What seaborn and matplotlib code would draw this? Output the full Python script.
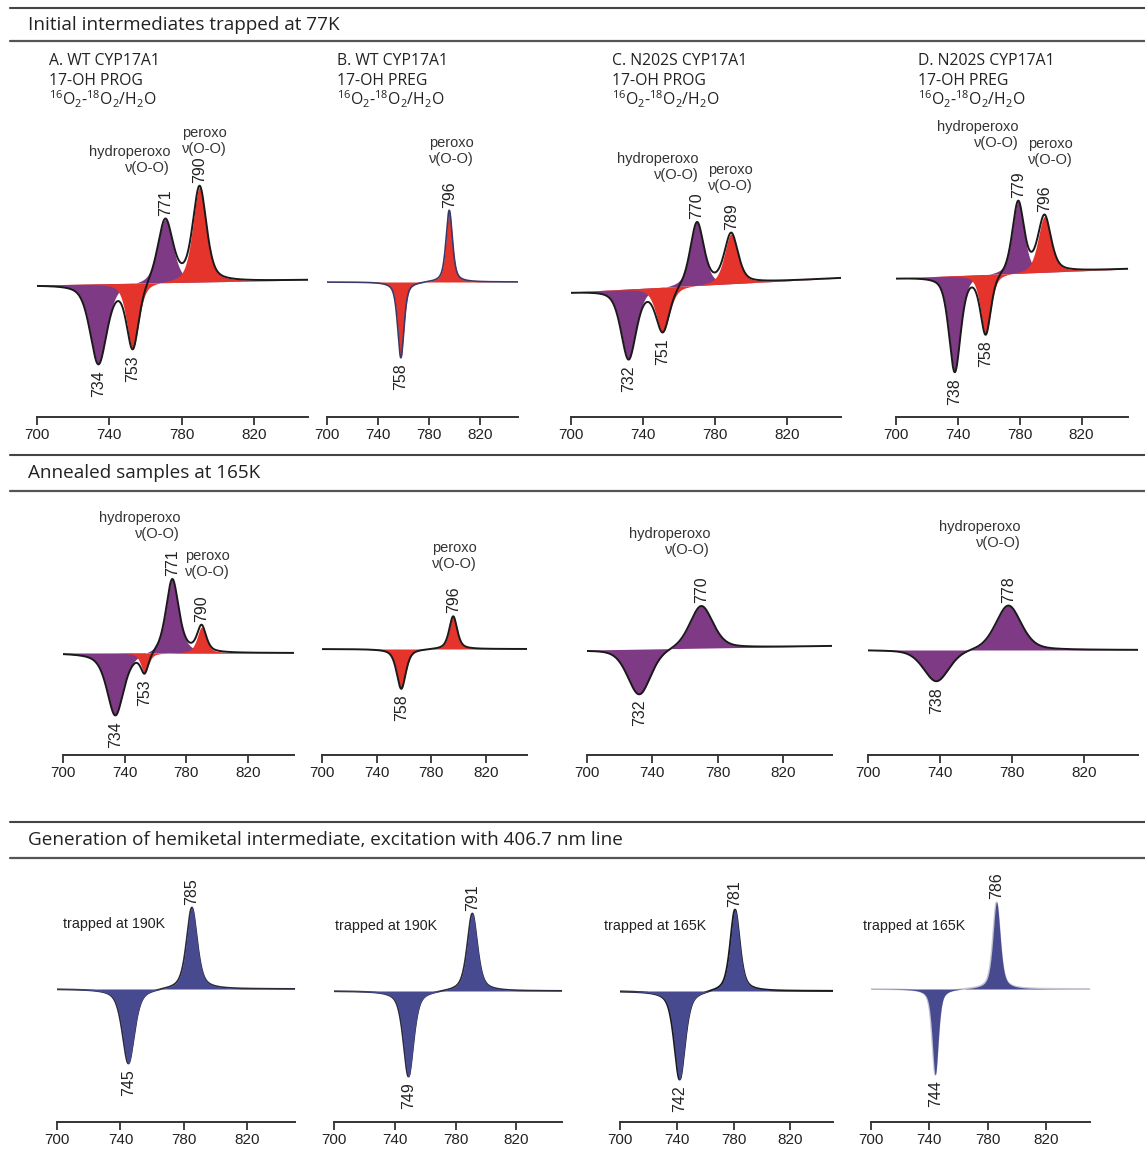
import numpy as np
import matplotlib
matplotlib.use("Agg")
import matplotlib.pyplot as plt
from matplotlib.lines import Line2D
import seaborn as sns

W, H = 1145, 1153

sns.set_theme(style="white")
plt.rcParams["font.family"] = ["Liberation Sans", "DejaVu Sans"]
plt.rcParams["mathtext.fontset"] = "custom"
plt.rcParams["mathtext.rm"] = "Open Sans"
plt.rcParams["mathtext.it"] = "Open Sans:italic"
plt.rcParams["mathtext.bf"] = "Open Sans:bold"

PURPLE = "#7E3A84"
RED = "#E4342B"
BLUE = "#474A8E"
SPECIES_COLORS = {"hydroperoxo": PURPLE, "peroxo": RED, "hemiketal": BLUE}

# ---------------- data -----------------
section_titles = [
    "Initial intermediates trapped at 77K",
    "Annealed samples at 165K",
    "Generation of hemiketal intermediate, excitation with 406.7 nm line",
]
panel_headers = [
    ["A. WT CYP17A1", "17-OH PROG"],
    ["B. WT CYP17A1", "17-OH PREG"],
    ["C. N202S CYP17A1", "17-OH PROG"],
    ["D. N202S CYP17A1", "17-OH PREG"],
]
isotope_label = r"$^{16}$O$_2$-$^{18}$O$_2$/H$_2$O"
trap_labels = ["trapped at 190K", "trapped at 190K", "trapped at 165K", "trapped at 165K"]
x_ticks = [700, 740, 780, 820]

# bands: (species, centre / cm-1, signed amplitude, FWHM / cm-1)
bands_77K_A = [("hydroperoxo", 734, -0.80, 11), ("hydroperoxo", 771, 0.64, 10),
               ("peroxo", 753, -0.66, 8), ("peroxo", 790, 0.95, 9)]
bands_77K_B = [("peroxo", 758, -0.76, 6), ("peroxo", 796, 0.72, 6)]
bands_77K_C = [("hydroperoxo", 732, -0.70, 10), ("hydroperoxo", 770, 0.64, 9),
               ("peroxo", 751, -0.45, 9), ("peroxo", 789, 0.50, 9)]
bands_77K_D = [("hydroperoxo", 738, -0.96, 9), ("hydroperoxo", 779, 0.72, 9),
               ("peroxo", 758, -0.60, 8), ("peroxo", 796, 0.56, 10)]

bands_165K_A = [("hydroperoxo", 734, -0.63, 13), ("hydroperoxo", 771, 0.75, 10),
                ("peroxo", 753, -0.20, 6), ("peroxo", 790, 0.26, 7)]
bands_165K_B = [("peroxo", 758, -0.40, 8), ("peroxo", 796, 0.33, 7)]
bands_165K_C = [("hydroperoxo", 732, -0.46, 17), ("hydroperoxo", 770, 0.43, 17)]
bands_165K_D = [("hydroperoxo", 738, -0.32, 17), ("hydroperoxo", 778, 0.45, 17)]

bands_hk_A = [("hemiketal", 745, -0.75, 9), ("hemiketal", 785, 0.82, 8)]
bands_hk_B = [("hemiketal", 749, -0.86, 8), ("hemiketal", 791, 0.78, 8)]
bands_hk_C = [("hemiketal", 742, -0.89, 9), ("hemiketal", 781, 0.82, 8)]
bands_hk_D = [("hemiketal", 744, -0.86, 5), ("hemiketal", 786, 0.87, 6)]

# baseline drift across 700-850 cm-1 (intensity units)
drift_77K = [0.05, 0.0, 0.14, 0.09]
drift_165K = [0.0, 0.0, 0.04, 0.0]
drift_hk = [0.0, 0.0, 0.0, 0.0]

# Lorentzian fraction of the pseudo-Voigt line shape
eta_77K = [0.5, 0.6, 0.5, 0.5]
eta_165K = [0.6, 0.6, 0.4, 0.4]
eta_hk = [0.6, 0.6, 0.6, 0.6]

# ---------------- layout (pixels) -----------------
rows = [
    dict(bands=[bands_77K_A, bands_77K_B, bands_77K_C, bands_77K_D],
         boxes=[(37, 308), (327, 518), (571, 841), (896, 1128)],
         base=[285, 282, 292, 278], top=110, axis=417,
         drift=drift_77K, eta=eta_77K),
    dict(bands=[bands_165K_A, bands_165K_B, bands_165K_C, bands_165K_D],
         boxes=[(63, 294), (322, 527), (587, 832), (868, 1138)],
         base=[653, 649, 650, 650], top=495, axis=755,
         drift=drift_165K, eta=eta_165K),
    dict(bands=[bands_hk_A, bands_hk_B, bands_hk_C, bands_hk_D],
         boxes=[(57, 295), (334, 562), (620, 833), (871, 1090)],
         base=[989, 991, 991, 989], top=862, axis=1122,
         drift=drift_hk, eta=eta_hk),
]
PX_PER_UNIT = 100.0

x = np.linspace(700, 850, 1501)


def line_shape(c, a, w, eta):
    g = w / 2.0
    lor = g ** 2 / ((x - c) ** 2 + g ** 2)
    sig = w / (2.0 * np.sqrt(2.0 * np.log(2.0)))
    gau = np.exp(-0.5 * ((x - c) / sig) ** 2)
    return a * (eta * lor + (1.0 - eta) * gau)


fig = plt.figure(figsize=(W / 100, H / 100), dpi=100)


def fx(px):
    return px / W


def fy(py):
    return 1.0 - py / H


def draw_panel(box, bands, base_px, top_px, axis_px, drift, eta, line_style):
    x0, x1 = box
    ax = fig.add_axes([fx(x0), fy(axis_px), (x1 - x0) / W, (axis_px - top_px) / H])
    ax.set_xlim(700, 850)
    ax.set_ylim(-(axis_px - base_px) / PX_PER_UNIT, (base_px - top_px) / PX_PER_UNIT)
    ax.patch.set_alpha(0)

    baseline = drift * (x - 700) / 150.0
    total = baseline.copy()
    order = []
    for b in bands:
        if b[0] not in order:
            order.append(b[0])
    for sp in order:
        curve = np.zeros_like(x)
        for name, c, a, w in bands:
            if name == sp:
                curve += line_shape(c, a, w, eta)
        ax.fill_between(x, baseline, baseline + curve, color=SPECIES_COLORS[sp],
                        lw=0, zorder=2)
        total += curve
    color, lw, z = line_style
    sns.lineplot(x=x, y=total, ax=ax, color=color, lw=lw, zorder=z)

    for name, c, a, w in bands:
        yv = np.interp(c, x, total)
        up = a > 0
        ax.annotate(str(c), (c, yv), xytext=(0, 2 if up else -4),
                    textcoords="offset points", rotation=90, ha="center",
                    va="bottom" if up else "top", fontsize=11.5, color="#222222")

    for s in ("top", "left", "right"):
        ax.spines[s].set_visible(False)
    ax.spines["bottom"].set_color("#333333")
    ax.spines["bottom"].set_linewidth(1.4)
    ax.set_yticks([])
    ax.set_xticks(x_ticks)
    ax.tick_params(axis="x", bottom=True, direction="out", length=6, width=1.3,
                   color="#333333", labelsize=11, labelcolor="#222222", pad=2)
    ax.set_xlabel("")
    ax.set_ylabel("")
    return ax


# (colour, width, zorder) of the summed spectrum trace
line_styles = [
    [("#1a1a1a", 1.4, 3), ("#3a3a6a", 1.2, 3), ("#1a1a1a", 1.4, 3), ("#1a1a1a", 1.4, 3)],
    [("#1a1a1a", 1.4, 3)] * 4,
    [("#2a2a3a", 1.3, 1), ("#2a2a3a", 1.3, 1), ("#1a1a1a", 1.5, 1), ("#c4c4d4", 1.2, 1)],
]

for r, row in enumerate(rows):
    for i in range(4):
        draw_panel(row["boxes"][i], row["bands"][i], row["base"][i], row["top"],
                   row["axis"], row["drift"][i], row["eta"][i], line_styles[r][i])

# ---------------- section headers -----------------
section_lines = [(8, 41), (455, 491), (822, 858)]
section_text_y = [25, 473, 840]
for title, (ya, yb), yt in zip(section_titles, section_lines, section_text_y):
    fig.add_artist(Line2D([fx(10), 1.0], [fy(ya), fy(ya)], color="#444444", lw=1.5))
    fig.add_artist(Line2D([fx(10), 1.0], [fy(yb), fy(yb)], color="#555555", lw=1.6))
    fig.text(fx(28), fy(yt), title, family="Open Sans", fontsize=13.6, color="#222222",
             va="center", ha="left")

# panel headers of the first row
header_x = [49, 337, 612, 918]
for hx, lines in zip(header_x, panel_headers):
    fig.text(fx(hx), fy(65), lines[0], family="Open Sans", fontsize=11.3,
             color="#222222", va="baseline")
    fig.text(fx(hx), fy(85), lines[1], family="Open Sans", fontsize=11.3,
             color="#222222", va="baseline")
    fig.text(fx(hx), fy(105), isotope_label, family="Open Sans", fontsize=11.3,
             color="#222222", va="baseline")

# band assignment labels (right edge x, vertical centre y)
assign = [
    ("hydroperoxo\nν(O-O)", 170, 160), ("peroxo\nν(O-O)", 227, 141),
    ("peroxo\nν(O-O)", 474, 151),
    ("hydroperoxo\nν(O-O)", 699, 167), ("peroxo\nν(O-O)", 753, 178),
    ("hydroperoxo\nν(O-O)", 1019, 135), ("peroxo\nν(O-O)", 1073, 152),
    ("hydroperoxo\nν(O-O)", 180, 526), ("peroxo\nν(O-O)", 230, 564),
    ("peroxo\nν(O-O)", 477, 556),
    ("hydroperoxo\nν(O-O)", 710, 542),
    ("hydroperoxo\nν(O-O)", 1021, 535),
]
for txt, rx, cy in assign:
    fig.text(fx(rx), fy(cy), txt, fontsize=10.5, color="#333333", ha="right",
             va="center", multialignment="right", linespacing=1.2)

trap_pos = [(63, 924), (335, 926), (604, 926), (863, 926)]
for txt, (tx, ty) in zip(trap_labels, trap_pos):
    fig.text(fx(tx), fy(ty), txt, fontsize=10.3, color="#222222", ha="left", va="center")

fig.savefig("out.png", dpi=100, facecolor="white")
